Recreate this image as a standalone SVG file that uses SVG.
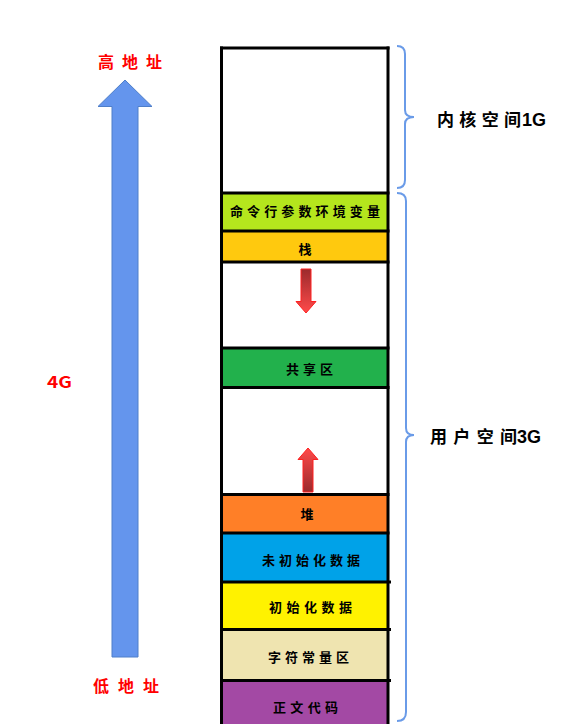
<svg xmlns="http://www.w3.org/2000/svg" width="583" height="724" viewBox="0 0 583 724">
<style>
.lbl{font-family:"Noto Sans CJK SC","Noto Sans",sans-serif;font-weight:bold;font-size:13px;fill:#000}
.side{font-family:"Noto Sans CJK SC","Noto Sans",sans-serif;font-weight:bold;font-size:17px;fill:#000}
.num{font-family:"Liberation Sans","Noto Sans",sans-serif;font-weight:bold;font-size:18px;fill:#000}
.red{font-family:"Noto Sans CJK SC","Noto Sans",sans-serif;font-weight:bold;font-size:16px;fill:#ff0000}
.hl{stroke:#000;stroke-width:3;fill:none}
.brace{stroke:#6a9be8;stroke-width:2;fill:none}
.rarrow{stroke:#ff2020;stroke-width:1}
</style>
<defs>
<linearGradient id="gDown" x1="0" y1="0" x2="0" y2="1">
<stop offset="0" stop-color="#9b2a2c"/>
<stop offset="1" stop-color="#ff4a4a"/>
</linearGradient>
<linearGradient id="gUp" x1="0" y1="0" x2="0" y2="1">
<stop offset="0" stop-color="#ff4a4a"/>
<stop offset="1" stop-color="#9b2a2c"/>
</linearGradient>
</defs>
<rect width="583" height="724" fill="#fff"/>

<g id="address-arrow">
<polygon points="125,80 98,106.5 112,106.5 112,657 138,657 138,106.5 152,106.5" fill="#6495ED" stroke="#4f7fc9" stroke-width="1"/>
<text class="red" x="98" y="68" textLength="64" lengthAdjust="spacing">高地址</text>
<text class="red" x="93" y="692" textLength="66" lengthAdjust="spacing">低地址</text>
<text class="red" x="47" y="388" textLength="25" lengthAdjust="spacingAndGlyphs">4G</text>
</g>

<g id="kernel">
<rect x="221" y="48" width="167" height="145" fill="#fff"/>
</g>
<g id="cmdline-env">
<rect x="221" y="193" width="167" height="38" fill="#B5E61D"/>
<text class="lbl" x="230" y="216" textLength="150" lengthAdjust="spacing">命令行参数环境变量</text>
</g>
<g id="stack">
<rect x="221" y="231" width="167" height="31" fill="#FFC90E"/>
<text class="lbl" x="305" y="254" text-anchor="middle">栈</text>
</g>
<g id="gap-top">
<rect x="221" y="262" width="167" height="86" fill="#fff"/>
</g>
<g id="shared">
<rect x="221" y="348" width="167" height="39.5" fill="#22B14C"/>
<text class="lbl" x="286" y="374" textLength="47" lengthAdjust="spacing">共享区</text>
</g>
<g id="gap-bottom">
<rect x="221" y="387.5" width="167" height="107" fill="#fff"/>
</g>
<g id="heap">
<rect x="221" y="494.5" width="167" height="38.5" fill="#FF7F27"/>
<text class="lbl" x="307" y="519" text-anchor="middle">堆</text>
</g>
<g id="bss">
<rect x="221" y="533" width="167" height="49" fill="#00A2E8"/>
<text class="lbl" x="262" y="565" textLength="98" lengthAdjust="spacing">未初始化数据</text>
</g>
<g id="data">
<rect x="221" y="582" width="167" height="47.5" fill="#FFF200"/>
<text class="lbl" x="269" y="612" textLength="83" lengthAdjust="spacing">初始化数据</text>
</g>
<g id="rodata">
<rect x="221" y="629.5" width="167" height="51" fill="#EFE4B0"/>
<text class="lbl" x="268" y="662" textLength="81" lengthAdjust="spacing">字符常量区</text>
</g>
<g id="text-seg">
<rect x="221" y="680.5" width="167" height="44" fill="#A349A4"/>
<text class="lbl" x="273" y="712" textLength="65" lengthAdjust="spacing">正文代码</text>
</g>

<g id="borders">
<line class="hl" x1="221.5" y1="46.5" x2="221.5" y2="724"/>
<line class="hl" x1="388" y1="46.5" x2="388" y2="724"/>
<line class="hl" x1="220" y1="48" x2="389.5" y2="48"/>
<line class="hl" x1="220" y1="193" x2="389.5" y2="193"/>
<line class="hl" x1="220" y1="231" x2="389.5" y2="231"/>
<line class="hl" x1="220" y1="262" x2="389.5" y2="262"/>
<line class="hl" x1="220" y1="348" x2="389.5" y2="348"/>
<line class="hl" x1="220" y1="387.5" x2="389.5" y2="387.5"/>
<line class="hl" x1="220" y1="494.5" x2="389.5" y2="494.5"/>
<line class="hl" x1="220" y1="533" x2="389.5" y2="533"/>
<line class="hl" x1="220" y1="582" x2="391" y2="582"/>
<line class="hl" x1="220" y1="629.5" x2="391" y2="629.5"/>
<line class="hl" x1="220" y1="680.5" x2="391" y2="680.5"/>
</g>

<g id="connectors">
<polygon class="rarrow" points="301,269 311,269 311,301.5 316,301.5 306,313 296,301.5 301,301.5" fill="url(#gDown)"/>
<polygon class="rarrow" points="308,448 318,459.5 313,459.5 313,492 303,492 303,459.5 298,459.5" fill="url(#gUp)"/>
<path class="brace" d="M397,46 Q405,46 405,54 L405,110 Q405,117 414,117 Q405,117 405,124 L405,180 Q405,188 397,188"/>
<path class="brace" d="M397,193 Q406,193 406,201 L406,428 Q406,435 414,435 Q406,435 406,442 L406,712 Q406,721 397,721"/>
</g>

<g id="kernel-label">
<text class="side" x="437" y="126" textLength="84" lengthAdjust="spacing">内核空间</text>
<text class="num" x="522" y="126">1G</text>
</g>
<g id="user-label">
<text class="side" x="430" y="443" textLength="87" lengthAdjust="spacing">用户空间</text>
<text class="num" x="517" y="443">3G</text>
</g>
</svg>
